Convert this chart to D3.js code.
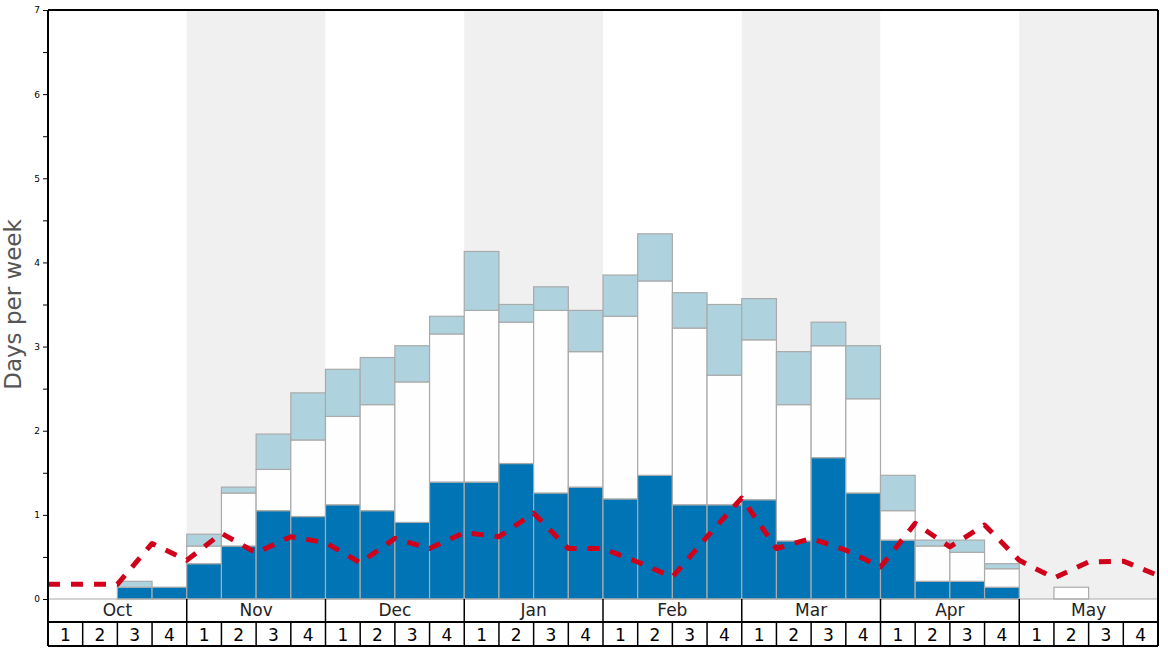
<!DOCTYPE html>
<html>
<head>
<meta charset="utf-8">
<script src="https://cdnjs.cloudflare.com/ajax/libs/d3/7.8.5/d3.min.js"></script>
<style>
body { margin: 0; background: #fff; }
svg { display: block; font-family: "DejaVu Sans", sans-serif; }
</style>
</head>
<body>
<svg id="chart" width="1168" height="648"></svg>
<script>
// months and weeks along the bottom
var months = ["Oct", "Nov", "Dec", "Jan", "Feb", "Mar", "Apr", "May"];
var weekLabels = ["1", "2", "3", "4"];

// stacked segments, cumulative tops per week (days per week)
var darkTop = [0, 0, 0.14, 0.14, 0.42, 0.63, 1.05, 0.98,
  1.12, 1.05, 0.91, 1.39, 1.39, 1.61, 1.26, 1.33,
  1.19, 1.47, 1.12, 1.12, 1.18, 0.69, 1.68, 1.26,
  0.70, 0.21, 0.21, 0.14, 0, 0, 0, 0];
var whiteTop = [0, 0, 0.14, 0.14, 0.63, 1.26, 1.54, 1.89,
  2.17, 2.31, 2.58, 3.15, 3.43, 3.29, 3.43, 2.94,
  3.36, 3.78, 3.22, 2.66, 3.08, 2.31, 3.01, 2.38,
  1.05, 0.63, 0.555, 0.36, 0, 0.14, 0, 0];
var lightTop = [0, 0, 0.21, 0.14, 0.77, 1.33, 1.96, 2.45,
  2.73, 2.87, 3.01, 3.36, 4.13, 3.50, 3.71, 3.43,
  3.85, 4.34, 3.64, 3.50, 3.57, 2.94, 3.29, 3.01,
  1.47, 0.70, 0.70, 0.42, 0, 0.14, 0, 0];

// dashed line, one value per week boundary
var lineVals = [0.175, 0.175, 0.175, 0.66, 0.46, 0.78, 0.55, 0.74,
  0.67, 0.43, 0.72, 0.60, 0.79, 0.74, 1.02, 0.60,
  0.60, 0.44, 0.26, 0.74, 1.20, 0.60, 0.72, 0.58,
  0.38, 0.90, 0.62, 0.88, 0.46, 0.25, 0.44, 0.45, 0.28];

var yTicks = [0, 0.5, 1, 1.5, 2, 2.5, 3, 3.5, 4, 4.5, 5, 5.5, 6, 6.5, 7];

(function() {
var pLeft = 48, pRight = 1158, pTop = 10, pBottom = 599;
var monthRow = 622, weekRow = 646;
var nWeeks = months.length * 4;

var svg = d3.select("#chart");
var x = d3.scaleLinear().domain([0, nWeeks]).range([pLeft, pRight]);
var y = d3.scaleLinear().domain([0, 7]).range([pBottom, pTop]);

// month background bands
svg.append("g").selectAll("rect").data(months).join("rect")
  .attr("x", function(d, i) { return x(i * 4); })
  .attr("y", pTop)
  .attr("width", x(4) - x(0))
  .attr("height", pBottom - pTop)
  .attr("fill", function(d, i) { return i % 2 ? "#f0f0f0" : "#fff"; });

var weeks = d3.range(nWeeks);
var segs = [];
weeks.forEach(function(i) {
  segs.push({ i: i, y0: 0, y1: darkTop[i], fill: "#0074b4" });
  segs.push({ i: i, y0: darkTop[i], y1: whiteTop[i], fill: "#fefefe" });
  segs.push({ i: i, y0: whiteTop[i], y1: lightTop[i], fill: "#aed3df" });
});

svg.append("g").selectAll("rect").data(segs.filter(function(s) { return s.y1 > s.y0; })).join("rect")
  .attr("x", function(d) { return x(d.i); })
  .attr("width", x(1) - x(0))
  .attr("y", function(d) { return y(d.y1); })
  .attr("height", function(d) { return y(d.y0) - y(d.y1); })
  .attr("fill", function(d) { return d.fill; })
  .attr("stroke", "#aaaaaa")
  .attr("stroke-width", 1.2);

// baseline
svg.append("line").attr("x1", pLeft).attr("x2", pRight).attr("y1", pBottom).attr("y2", pBottom)
  .attr("stroke", "#aaaaaa").attr("stroke-width", 1.2);

// dashed red line
var line = d3.line()
  .x(function(d, i) { return x(i); })
  .y(function(d) { return y(d); });
svg.append("path").datum(lineVals)
  .attr("d", line)
  .attr("fill", "none")
  .attr("stroke", "#d0021b")
  .attr("stroke-width", 5)
  .attr("stroke-linejoin", "round")
  .attr("stroke-dasharray", "12,11");

// y axis
var yAxis = d3.axisLeft(y).tickValues(yTicks).tickSize(5).tickPadding(3)
  .tickFormat(function(d) { return d % 1 === 0 ? d : ""; });
var gy = svg.append("g").attr("transform", "translate(" + pLeft + ",0)").call(yAxis);
gy.select(".domain").remove();
gy.selectAll("text").attr("font-size", 9).attr("font-family", "DejaVu Sans").attr("fill", "#000");

svg.append("text")
  .attr("transform", "translate(21," + ((pTop + pBottom) / 2) + ") rotate(-90)")
  .attr("text-anchor", "middle")
  .attr("font-size", 23)
  .attr("fill", "#555")
  .text("Days per week");

// frame
svg.append("line").attr("x1", pLeft).attr("x2", pLeft).attr("y1", pTop).attr("y2", weekRow)
  .attr("stroke", "#000").attr("stroke-width", 2);
svg.append("line").attr("x1", pLeft).attr("x2", pRight).attr("y1", pTop).attr("y2", pTop)
  .attr("stroke", "#000").attr("stroke-width", 2);
svg.append("line").attr("x1", pRight).attr("x2", pRight).attr("y1", pTop).attr("y2", weekRow)
  .attr("stroke", "#000").attr("stroke-width", 2);

// month row
var gm = svg.append("g");
gm.selectAll("line").data(d3.range(months.length + 1)).join("line")
  .attr("x1", function(d) { return x(d * 4); })
  .attr("x2", function(d) { return x(d * 4); })
  .attr("y1", pBottom).attr("y2", monthRow)
  .attr("stroke", "#000").attr("stroke-width", 1.5);
gm.selectAll("text").data(months).join("text")
  .attr("x", function(d, i) { return x(i * 4 + 2); })
  .attr("y", pBottom + 17)
  .attr("text-anchor", "middle")
  .attr("font-size", 17)
  .attr("fill", "#222")
  .text(function(d) { return d; });

// week row
var gw = svg.append("g");
gw.append("line").attr("x1", pLeft).attr("x2", pRight).attr("y1", monthRow).attr("y2", monthRow)
  .attr("stroke", "#000").attr("stroke-width", 2);
gw.append("line").attr("x1", pLeft).attr("x2", pRight).attr("y1", weekRow).attr("y2", weekRow)
  .attr("stroke", "#000").attr("stroke-width", 2);
gw.selectAll("line.sep").data(d3.range(nWeeks + 1)).join("line").attr("class", "sep")
  .attr("x1", function(d) { return x(d); })
  .attr("x2", function(d) { return x(d); })
  .attr("y1", monthRow).attr("y2", weekRow)
  .attr("stroke", "#000").attr("stroke-width", 1.5);
gw.selectAll("text").data(weeks).join("text")
  .attr("x", function(d) { return x(d + 0.5); })
  .attr("y", monthRow + 19)
  .attr("text-anchor", "middle")
  .attr("font-size", 17)
  .attr("fill", "#000")
  .text(function(d) { return weekLabels[d % 4]; });
})();
</script>
</body>
</html>
